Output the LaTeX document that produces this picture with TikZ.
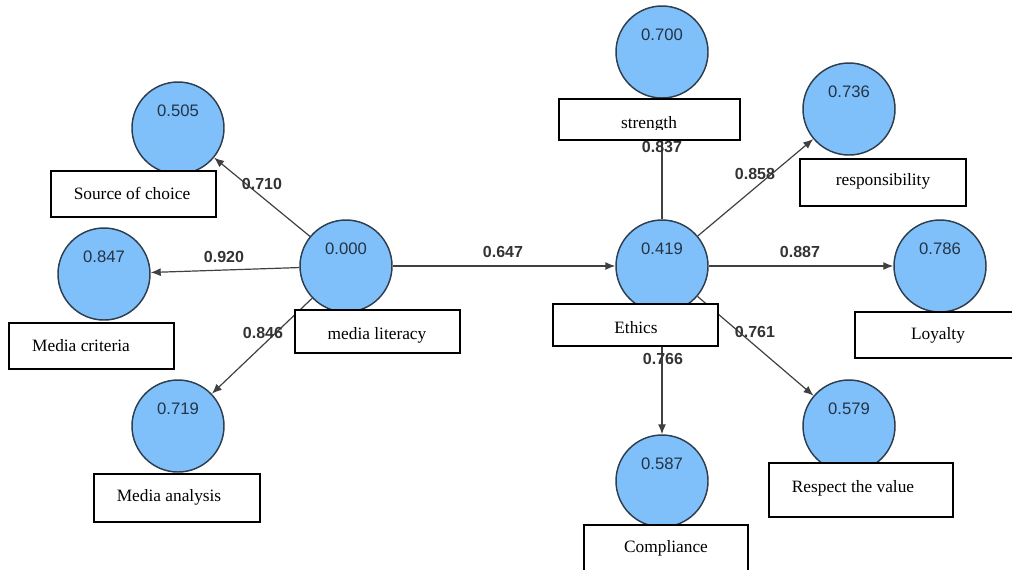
\documentclass[tikz,border=0pt]{standalone}
\usepackage{fontspec}
\setmainfont{Liberation Serif}
\newfontfamily\numfont{Liberation Sans}
\usetikzlibrary{arrows.meta}
\definecolor{cfill}{HTML}{80C0FA}
\definecolor{cborder}{HTML}{2E3E4E}
\definecolor{vcol}{HTML}{233446}
\definecolor{lcol}{HTML}{333333}
\definecolor{acol}{HTML}{404040}
\tikzset{
  lv/.style={circle, draw=cborder, line width=1.1pt, fill=cfill, minimum size=69pt, inner sep=0pt},
  vtxt/.style={font=\numfont\fontsize{12.5}{14}\selectfont, text=vcol, yshift=12.75pt, inner sep=0pt},
  boxn/.style={draw=black, line width=1.5pt, fill=white, inner sep=0pt},
  btxt/.style={font=\fontsize{13}{15}\selectfont, anchor=base, inner sep=0pt, text=black},
  etxt/.style={font=\numfont\bfseries\fontsize{12}{14}\selectfont, text=lcol, inner sep=0pt},
  conn/.style={draw=acol, line width=0.9pt, -{Latex[length=7.5pt,width=6pt]}},
  plainconn/.style={draw=acol, line width=0.9pt}
}
\begin{document}
\begin{tikzpicture}[x=0.75pt,y=-0.75pt]
\useasboundingbox (0,0) rectangle (1012,569);
\clip (0,0) rectangle (1012,569);
% circles
\node[lv, label={[vtxt]center:0.505}] (c505) at (178,128) {};
\node[lv, label={[vtxt]center:0.000}] (c000) at (346,266) {};
\node[lv, label={[vtxt]center:0.847}] (c847) at (104,274) {};
\node[lv, label={[vtxt]center:0.719}] (c719) at (178,426) {};
\node[lv, label={[vtxt]center:0.700}] (c700) at (662,52) {};
\node[lv, label={[vtxt]center:0.736}] (c736) at (849,109) {};
\node[lv, label={[vtxt]center:0.419}] (c419) at (662,266) {};
\node[lv, label={[vtxt]center:0.786}] (c786) at (940,266) {};
\node[lv, label={[vtxt]center:0.579}] (c579) at (849,426) {};
\node[lv, label={[vtxt]center:0.587}] (c587) at (662,481) {};
% connectors
\draw[conn] (c000) -- (c505);
\draw[conn] (c000) -- (c847);
\draw[conn] (c000) -- (c719);
\draw[conn] (c000) -- (c419);
\draw[plainconn] (c419) -- (c700);
\draw[conn] (c419) -- (c736);
\draw[conn] (c419) -- (c786);
\draw[conn] (c419) -- (c579);
\draw[conn] (c419) -- (c587);
% boxes
\node[boxn, minimum width=123.75pt, minimum height=34.5pt] (bsrc) at (133.5,194) {};
\node[boxn, minimum width=123.75pt, minimum height=32.25pt] (bml) at (377.5,331.5) {};
\node[boxn, minimum width=123.75pt, minimum height=34.5pt] (bcrit) at (91.5,346) {};
\node[boxn, minimum width=124.5pt, minimum height=36pt] (bana) at (177,498) {};
\node[boxn, minimum width=135.75pt, minimum height=30.75pt] (bstr) at (649.5,119.5) {};
\node[boxn, minimum width=124.5pt, minimum height=35.25pt] (bresp) at (883,182.5) {};
\node[boxn, minimum width=123.75pt, minimum height=31.5pt] (beth) at (635.5,325) {};
\node[boxn, minimum width=123.75pt, minimum height=34.5pt] (bloy) at (937.5,335) {};
\node[boxn, minimum width=138pt, minimum height=40.5pt] (bres) at (861,490) {};
\node[boxn, minimum width=123pt, minimum height=41.25pt] (bcom) at (666,552.5) {};
% box texts
\node[btxt] (tsrc) at (132,199) {Source of choice};
\node[btxt] (tml) at (377,339) {media literacy};
\node[btxt] (tcrit) at (81,351) {Media criteria};
\node[btxt] (tana) at (169,501) {Media analysis};
\begin{scope}
\clip (560,100) rectangle (739,129.5);
\node[btxt] (tstr) at (649,128.5) {strength};
\end{scope}
\node[btxt] (tresp) at (883,185) {responsibility};
\node[btxt] (teth) at (636,333) {Ethics};
\node[btxt] (tloy) at (938,339) {Loyalty};
\node[btxt] (tres) at (853,492) {Respect the value};
\node[btxt] (tcom) at (666,552) {Compliance};
% edge labels
\node[etxt] (l710) at (262,184) {0.710};
\node[etxt] (l920) at (224,257) {0.920};
\node[etxt] (l846) at (263,333) {0.846};
\node[etxt] (l647) at (503,252) {0.647};
\node[etxt] (l837) at (662,147) {0.837};
\node[etxt] (l858) at (755,174) {0.858};
\node[etxt] (l887) at (800,252) {0.887};
\node[etxt] (l761) at (755,332) {0.761};
\node[etxt] (l766) at (663,359) {0.766};
\end{tikzpicture}
\end{document}
